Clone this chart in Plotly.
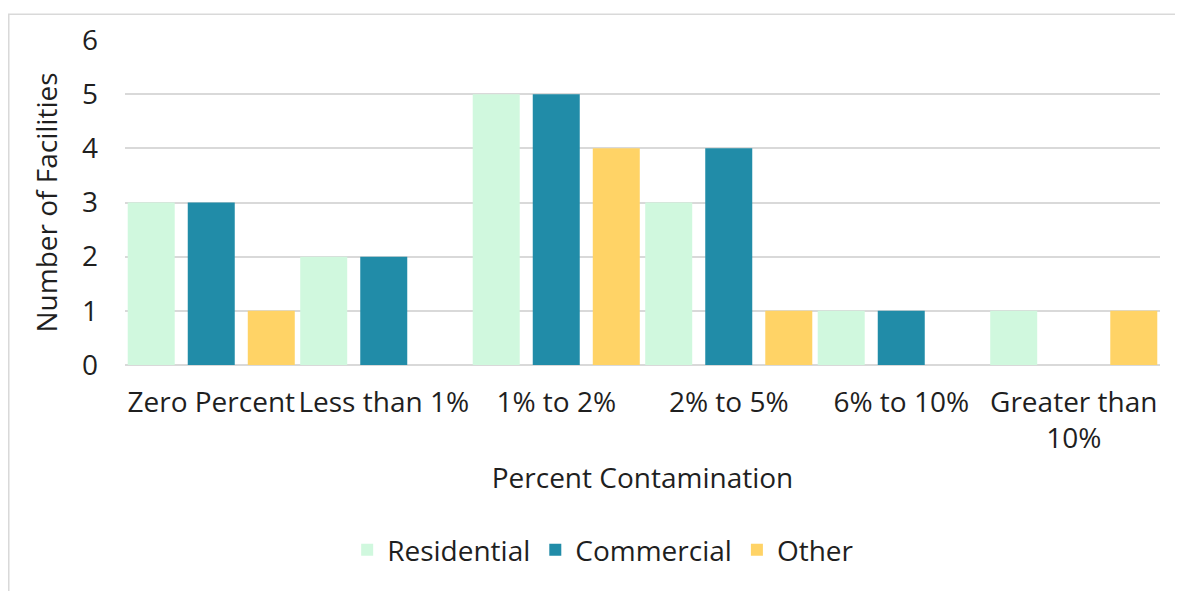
import plotly.graph_objects as go

# categories on the x axis
categories = ["Zero Percent", "Less than 1%", "1% to 2%", "2% to 5%",
              "6% to 10%", "Greater than<br>10%"]

# number of facilities per series
residential = [3, 2, 5, 3, 1, 1]
commercial = [3, 2, 5, 4, 1, 0]
other = [1, 0, 4, 1, 0, 1]

y_ticks = [0, 1, 2, 3, 4, 5, 6]

font_family = "'Open Sans', Lato, sans-serif"
text_color = "#1f1f1f"
grid_color = "#d9d9d9"

x_pos = list(range(len(categories)))

# bars are 47px wide on a 60px pitch, category is 172.5px wide
bar_w = 0.2725
pitch = 0.348

fig = go.Figure()

series = [("Residential", residential, '#d0f8de', -1),
          ("Commercial", commercial, '#218ca8', 0),
          ("Other", other, '#ffd366', 1)]
for name, vals, color, k in series:
    fig.add_trace(go.Bar(x=x_pos, y=vals, name=name,
                         width=bar_w, offset=k * pitch - bar_w / 2,
                         marker={'color': color, 'line': {'width': 0}}))

# the page body has an 8px margin, so the figure is shrunk by 8px
# plot area on screen: x 125..1160, y 35..365
fig.update_layout(
    width=1175,
    height=583,
    margin={'l': 117, 'r': 23, 't': 27, 'b': 226},
    paper_bgcolor="white",
    plot_bgcolor="white",
    font={'family': font_family, 'size': 28, 'color': text_color},
    barmode="overlay",
    showlegend=True,
    legend={'orientation': 'h', 'x': 0.462, 'xanchor': 'center',
            'y': -0.569, 'yanchor': 'middle',
            'font': {'size': 28}, 'itemwidth': 30},
    xaxis={'title': {'text': "Percent Contamination", 'standoff': 12,
                     'font': {'size': 28}},
           'range': [-0.5, len(categories) - 0.5],
           'tickvals': x_pos, 'ticktext': categories,
           'showgrid': False, 'showline': False, 'ticks': '',
           'zeroline': False,
           'ticklabelstandoff': 18, 'tickfont': {'size': 28}},
    yaxis={'title': {'text': "Number of Facilities", 'standoff': 16,
                     'font': {'size': 28}},
           'range': [0, 6], 'tickvals': y_ticks,
           'showgrid': True, 'gridcolor': grid_color, 'gridwidth': 1.5,
           'zeroline': True, 'zerolinecolor': grid_color, 'zerolinewidth': 1.5,
           'showline': False, 'ticks': '', 'ticklabelstandoff': 26,
           'tickfont': {'size': 28}},
    shapes=[{'type': 'rect', 'xref': 'paper', 'yref': 'paper',
             'x0': -0.1123, 'x1': 1.05, 'y0': -0.75, 'y1': 1.0795,
             'line': {'color': '#d9d9d9', 'width': 1.5}, 'layer': 'below'}],
)

fig.write_html("out.html")
